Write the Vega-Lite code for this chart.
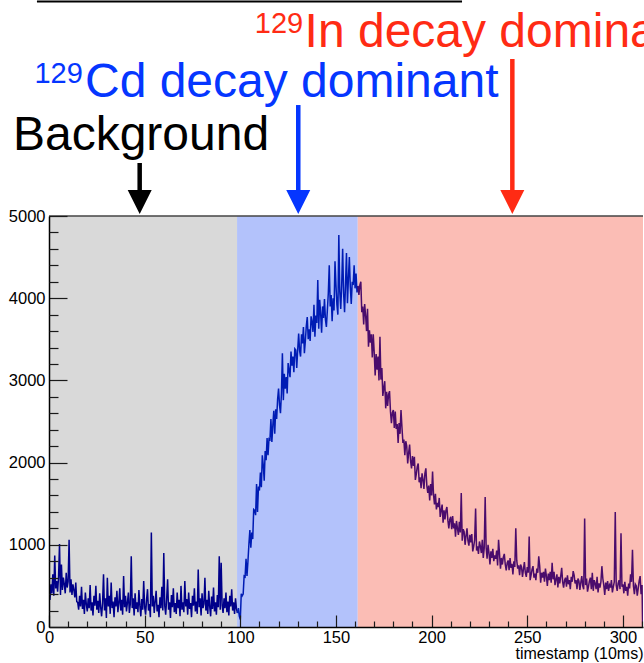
{
"$schema":"https://vega.github.io/schema/vega-lite/v6.json",
"width":594,"height":411,
"autosize":{"type":"none"},
"padding":{"left":49,"top":216,"right":1,"bottom":36},
"background":"white",
"config":{"font":"Liberation Sans","view":{"stroke":null}},
"datasets":{
"one":[{}],
"regions":[{"r":"bg","a":0,"b":98.3},{"r":"cd","a":98.3,"b":161.4},{"r":"in","a":161.4,"b":310.5}],
"h":[
{"t":0,"v":420},{"t":0.5,"v":330},{"t":1,"v":520},{"t":1.5,"v":410},{"t":2,"v":640},{"t":2.5,"v":380},{"t":3,"v":870},{"t":3.5,"v":470},{"t":4,"v":560},{"t":4.5,"v":430},{"t":5,"v":610},{"t":5.5,"v":1010},{"t":6,"v":390},{"t":6.5,"v":760},{"t":7,"v":450},{"t":7.5,"v":600},{"t":8,"v":520},{"t":8.5,"v":410},{"t":9,"v":660},{"t":9.5,"v":480},{"t":10,"v":550},{"t":10.5,"v":1060},{"t":11,"v":420},{"t":11.5,"v":580},{"t":12,"v":390},{"t":12.5,"v":520},{"t":13,"v":450},{"t":13.5,"v":360},{"t":14,"v":540},{"t":14.5,"v":310},
{"t":15,"v":300},{"t":15.5,"v":210},{"t":16,"v":380},{"t":16.5,"v":250},{"t":17,"v":490},{"t":17.5,"v":220},{"t":18,"v":330},{"t":18.5,"v":160},{"t":19,"v":420},{"t":19.5,"v":280},{"t":20,"v":190},{"t":20.5,"v":350},{"t":21,"v":230},{"t":21.5,"v":510},{"t":22,"v":200},{"t":22.5,"v":300},{"t":23,"v":140},{"t":23.5,"v":380},{"t":24,"v":260},{"t":24.5,"v":500},{"t":25,"v":210},{"t":25.5,"v":320},{"t":26,"v":170},{"t":26.5,"v":410},{"t":27,"v":240},{"t":27.5,"v":130},{"t":28,"v":290},{"t":28.5,"v":640},{"t":29,"v":200},{"t":29.5,"v":350},{"t":30,"v":110},{"t":30.5,"v":600},{"t":31,"v":250},{"t":31.5,"v":380},{"t":32,"v":160},{"t":32.5,"v":540},{"t":33,"v":230},{"t":33.5,"v":310},{"t":34,"v":120},{"t":34.5,"v":360},{"t":35,"v":250},{"t":35.5,"v":440},{"t":36,"v":180},{"t":36.5,"v":290},{"t":37,"v":470},{"t":37.5,"v":200},{"t":38,"v":330},{"t":38.5,"v":150},{"t":39,"v":620},{"t":39.5,"v":240},{"t":40,"v":380},{"t":40.5,"v":190},{"t":41,"v":300},{"t":41.5,"v":420},{"t":42,"v":170},{"t":42.5,"v":280},{"t":43,"v":860},{"t":43.5,"v":230},{"t":44,"v":350},{"t":44.5,"v":140},{"t":45,"v":410},{"t":45.5,"v":220},{"t":46,"v":300},{"t":46.5,"v":180},{"t":47,"v":450},{"t":47.5,"v":260},{"t":48,"v":130},{"t":48.5,"v":340},{"t":49,"v":210},{"t":49.5,"v":560},{"t":50,"v":240},{"t":50.5,"v":150},{"t":51,"v":330},{"t":51.5,"v":460},{"t":52,"v":200},{"t":52.5,"v":280},{"t":53,"v":120},{"t":53.5,"v":1150},{"t":54,"v":250},{"t":54.5,"v":380},{"t":55,"v":170},{"t":55.5,"v":310},{"t":56,"v":440},{"t":56.5,"v":190},{"t":57,"v":270},{"t":57.5,"v":120},{"t":58,"v":360},{"t":58.5,"v":230},{"t":59,"v":490},{"t":59.5,"v":200},{"t":60,"v":900},{"t":60.5,"v":260},{"t":61,"v":150},{"t":61.5,"v":340},{"t":62,"v":580},{"t":62.5,"v":210},{"t":63,"v":300},{"t":63.5,"v":110},{"t":64,"v":390},{"t":64.5,"v":240},{"t":65,"v":470},{"t":65.5,"v":180},{"t":66,"v":290},{"t":66.5,"v":160},{"t":67,"v":420},{"t":67.5,"v":230},{"t":68,"v":330},{"t":68.5,"v":130},{"t":69,"v":500},{"t":69.5,"v":210},{"t":70,"v":300},{"t":70.5,"v":180},{"t":71,"v":560},{"t":71.5,"v":250},{"t":72,"v":340},{"t":72.5,"v":150},{"t":73,"v":420},{"t":73.5,"v":220},{"t":74,"v":290},{"t":74.5,"v":120},{"t":75,"v":380},{"t":75.5,"v":260},{"t":76,"v":470},{"t":76.5,"v":190},{"t":77,"v":310},{"t":77.5,"v":160},{"t":78,"v":700},{"t":78.5,"v":240},{"t":79,"v":350},{"t":79.5,"v":140},{"t":80,"v":410},{"t":80.5,"v":230},{"t":81,"v":280},{"t":81.5,"v":600},{"t":82,"v":200},{"t":82.5,"v":330},{"t":83,"v":160},{"t":83.5,"v":440},{"t":84,"v":250},{"t":84.5,"v":130},{"t":85,"v":370},{"t":85.5,"v":220},{"t":86,"v":480},{"t":86.5,"v":190},{"t":87,"v":300},{"t":87.5,"v":150},{"t":88,"v":390},{"t":88.5,"v":240},{"t":89,"v":860},{"t":89.5,"v":210},{"t":90,"v":780},{"t":90.5,"v":260},{"t":91,"v":170},{"t":91.5,"v":350},{"t":92,"v":230},{"t":92.5,"v":420},{"t":93,"v":180},{"t":93.5,"v":310},{"t":94,"v":140},{"t":94.5,"v":380},{"t":95,"v":250},{"t":95.5,"v":460},{"t":96,"v":200},{"t":96.5,"v":300},{"t":97,"v":160},{"t":97.5,"v":350},{"t":98,"v":220},{"t":98.5,"v":170},
{"t":99,"v":230},{"t":99.5,"v":130},{"t":100,"v":90},{"t":100.5,"v":405},{"t":101,"v":380},{"t":101.5,"v":400},{"t":102,"v":620},{"t":102.5,"v":610},{"t":103,"v":830},{"t":103.5,"v":620},{"t":104,"v":800},{"t":104.5,"v":1010},{"t":105,"v":1180},{"t":105.5,"v":965},{"t":106,"v":1150},{"t":106.5,"v":1070},{"t":107,"v":1430},{"t":107.5,"v":1420},{"t":108,"v":1360},{"t":108.5,"v":1740},{"t":109,"v":1400},{"t":109.5,"v":1710},{"t":110,"v":1660},{"t":110.5,"v":1880},{"t":111,"v":1700},{"t":111.5,"v":2090},{"t":112,"v":1970},{"t":112.5,"v":1780},{"t":113,"v":2140},{"t":113.5,"v":2030},{"t":114,"v":2300},{"t":114.5,"v":2090},{"t":115,"v":2290},{"t":115.5,"v":2280},{"t":116,"v":2530},{"t":116.5,"v":2250},{"t":117,"v":2450},{"t":117.5,"v":2630},{"t":118,"v":2350},{"t":118.5,"v":2650},{"t":119,"v":2530},{"t":119.5,"v":2770},{"t":120,"v":2900},{"t":120.5,"v":2700},{"t":121,"v":2600},{"t":121.5,"v":2840},{"t":122,"v":3330},{"t":122.5,"v":2760},{"t":123,"v":3080},{"t":123.5,"v":2900},{"t":124,"v":3040},{"t":124.5,"v":2840},{"t":125,"v":3210},{"t":125.5,"v":3120},{"t":126,"v":3040},{"t":126.5,"v":3350},{"t":127,"v":3180},{"t":127.5,"v":3290},{"t":128,"v":3100},{"t":128.5,"v":3385},{"t":129,"v":3370},{"t":129.5,"v":3150},{"t":130,"v":3370},{"t":130.5,"v":3570},{"t":131,"v":3360},{"t":131.5,"v":3290},{"t":132,"v":3560},{"t":132.5,"v":3450},{"t":133,"v":3650},{"t":133.5,"v":3330},{"t":134,"v":3480},{"t":134.5,"v":3660},{"t":135,"v":3770},{"t":135.5,"v":3500},{"t":136,"v":3620},{"t":136.5,"v":3480},{"t":137,"v":3780},{"t":137.5,"v":3710},{"t":138,"v":3590},{"t":138.5,"v":3920},{"t":139,"v":3530},{"t":139.5,"v":3790},{"t":140,"v":3700},{"t":140.5,"v":4220},{"t":141,"v":3630},{"t":141.5,"v":3980},{"t":142,"v":3810},{"t":142.5,"v":3580},{"t":143,"v":3900},{"t":143.5,"v":3760},{"t":144,"v":3990},{"t":144.5,"v":3740},{"t":145,"v":3650},{"t":145.5,"v":3850},{"t":146,"v":4060},{"t":146.5,"v":4400},{"t":147,"v":3900},{"t":147.5,"v":4040},{"t":148,"v":3720},{"t":148.5,"v":4000},{"t":149,"v":3850},{"t":149.5,"v":4450},{"t":150,"v":4160},{"t":150.5,"v":3920},{"t":151,"v":3800},{"t":151.5,"v":4770},{"t":152,"v":4080},{"t":152.5,"v":3870},{"t":153,"v":4160},{"t":153.5,"v":4600},{"t":154,"v":4060},{"t":154.5,"v":3830},{"t":155,"v":4170},{"t":155.5,"v":4550},{"t":156,"v":3940},{"t":156.5,"v":4230},{"t":157,"v":4500},{"t":157.5,"v":4140},{"t":158,"v":3930},{"t":158.5,"v":4200},{"t":159,"v":4160},{"t":159.5,"v":4400},{"t":160,"v":4120},{"t":160.5,"v":4300},{"t":161,"v":4070},{"t":161.5,"v":4150},
{"t":162,"v":4040},{"t":162.5,"v":4160},{"t":163,"v":4200},{"t":163.5,"v":3830},{"t":164,"v":3900},{"t":164.5,"v":3680},{"t":165,"v":3930},{"t":165.5,"v":3790},{"t":166,"v":3600},{"t":166.5,"v":3870},{"t":167,"v":3410},{"t":167.5,"v":3610},{"t":168,"v":3460},{"t":168.5,"v":3560},{"t":169,"v":3280},{"t":169.5,"v":3560},{"t":170,"v":3340},{"t":170.5,"v":3060},{"t":171,"v":3320},{"t":171.5,"v":3130},{"t":172,"v":3290},{"t":172.5,"v":3000},{"t":173,"v":3530},{"t":173.5,"v":3010},{"t":174,"v":3150},{"t":174.5,"v":2810},{"t":175,"v":2910},{"t":175.5,"v":2990},{"t":176,"v":2660},{"t":176.5,"v":2860},{"t":177,"v":2690},{"t":177.5,"v":2830},{"t":178,"v":2870},{"t":178.5,"v":2620},{"t":179,"v":2480},{"t":179.5,"v":2610},{"t":180,"v":2640},{"t":180.5,"v":2420},{"t":181,"v":2620},{"t":181.5,"v":2410},{"t":182,"v":2470},{"t":182.5,"v":2240},{"t":183,"v":2480},{"t":183.5,"v":2350},{"t":184,"v":2640},{"t":184.5,"v":2430},{"t":185,"v":2240},{"t":185.5,"v":2280},{"t":186,"v":2090},{"t":186.5,"v":2260},{"t":187,"v":2200},{"t":187.5,"v":1990},{"t":188,"v":2120},{"t":188.5,"v":2220},{"t":189,"v":2020},{"t":189.5,"v":1930},{"t":190,"v":2080},{"t":190.5,"v":1960},{"t":191,"v":2070},{"t":191.5,"v":1790},{"t":192,"v":1860},{"t":192.5,"v":1950},{"t":193,"v":1990},{"t":193.5,"v":1760},{"t":194,"v":1820},{"t":194.5,"v":1690},{"t":195,"v":1870},{"t":195.5,"v":1790},{"t":196,"v":1680},{"t":196.5,"v":1870},{"t":197,"v":1930},{"t":197.5,"v":1720},{"t":198,"v":1630},{"t":198.5,"v":1720},{"t":199,"v":1540},{"t":199.5,"v":1740},{"t":200,"v":1600},{"t":200.5,"v":1890},{"t":201,"v":1610},{"t":201.5,"v":1490},{"t":202,"v":1620},{"t":202.5,"v":1430},{"t":203,"v":1510},{"t":203.5,"v":1460},{"t":204,"v":1570},{"t":204.5,"v":1340},{"t":205,"v":1420},{"t":205.5,"v":1490},{"t":206,"v":1270},{"t":206.5,"v":1420},{"t":207,"v":1310},{"t":207.5,"v":1420},{"t":208,"v":1460},{"t":208.5,"v":1300},{"t":209,"v":1200},{"t":209.5,"v":1310},{"t":210,"v":1340},{"t":210.5,"v":1190},{"t":211,"v":1350},{"t":211.5,"v":1200},{"t":212,"v":1260},{"t":212.5,"v":1100},{"t":213,"v":1290},{"t":213.5,"v":1200},{"t":214,"v":1120},{"t":214.5,"v":1280},{"t":215,"v":1150},{"t":215.5,"v":1630},{"t":216,"v":1050},{"t":216.5,"v":1190},{"t":217,"v":1160},{"t":217.5,"v":1000},{"t":218,"v":1110},{"t":218.5,"v":1200},{"t":219,"v":1050},{"t":219.5,"v":990},{"t":220,"v":1120},{"t":220.5,"v":1030},{"t":221,"v":1130},{"t":221.5,"v":920},{"t":222,"v":980},{"t":222.5,"v":1060},{"t":223,"v":1440},{"t":223.5,"v":930},{"t":224,"v":980},{"t":224.5,"v":890},{"t":225,"v":1040},{"t":225.5,"v":980},{"t":226,"v":900},{"t":226.5,"v":1060},{"t":227,"v":840},{"t":227.5,"v":960},{"t":228,"v":1580},{"t":228.5,"v":970},{"t":229,"v":830},{"t":229.5,"v":1000},{"t":230,"v":900},{"t":230.5,"v":760},{"t":231,"v":920},{"t":231.5,"v":840},{"t":232,"v":950},{"t":232.5,"v":800},{"t":233,"v":870},{"t":233.5,"v":830},{"t":234,"v":930},{"t":234.5,"v":750},{"t":235,"v":1060},{"t":235.5,"v":890},{"t":236,"v":710},{"t":236.5,"v":840},{"t":237,"v":760},{"t":237.5,"v":850},{"t":238,"v":890},{"t":238.5,"v":760},{"t":239,"v":690},{"t":239.5,"v":780},{"t":240,"v":810},{"t":240.5,"v":690},{"t":241,"v":840},{"t":241.5,"v":720},{"t":242,"v":770},{"t":242.5,"v":640},{"t":243,"v":800},{"t":243.5,"v":730},{"t":244,"v":1200},{"t":244.5,"v":810},{"t":245,"v":710},{"t":245.5,"v":750},{"t":246,"v":630},{"t":246.5,"v":760},{"t":247,"v":730},{"t":247.5,"v":610},{"t":248,"v":700},{"t":248.5,"v":790},{"t":249,"v":660},{"t":249.5,"v":610},{"t":250,"v":730},{"t":250.5,"v":660},{"t":251,"v":1100},{"t":251.5,"v":570},{"t":252,"v":630},{"t":252.5,"v":700},{"t":253,"v":740},{"t":253.5,"v":600},{"t":254,"v":650},{"t":254.5,"v":570},{"t":255,"v":710},{"t":255.5,"v":660},{"t":256,"v":860},{"t":256.5,"v":740},{"t":257,"v":540},{"t":257.5,"v":660},{"t":258,"v":600},{"t":258.5,"v":670},{"t":259,"v":550},{"t":259.5,"v":710},{"t":260,"v":620},{"t":260.5,"v":500},{"t":261,"v":650},{"t":261.5,"v":570},{"t":262,"v":670},{"t":262.5,"v":540},{"t":263,"v":780},{"t":263.5,"v":580},{"t":264,"v":670},{"t":264.5,"v":510},{"t":265,"v":580},{"t":265.5,"v":640},{"t":266,"v":480},{"t":266.5,"v":610},{"t":267,"v":530},{"t":267.5,"v":620},{"t":268,"v":720},{"t":268.5,"v":550},{"t":269,"v":480},{"t":269.5,"v":570},{"t":270,"v":600},{"t":270.5,"v":490},{"t":271,"v":630},{"t":271.5,"v":520},{"t":272,"v":570},{"t":272.5,"v":460},{"t":273,"v":610},{"t":273.5,"v":550},{"t":274,"v":680},{"t":274.5,"v":630},{"t":275,"v":530},{"t":275.5,"v":570},{"t":276,"v":460},{"t":276.5,"v":590},{"t":277,"v":560},{"t":277.5,"v":450},{"t":278,"v":540},{"t":278.5,"v":620},{"t":279,"v":500},{"t":279.5,"v":460},{"t":280,"v":1320},{"t":280.5,"v":510},{"t":281,"v":590},{"t":281.5,"v":430},{"t":282,"v":490},{"t":282.5,"v":560},{"t":283,"v":600},{"t":283.5,"v":460},{"t":284,"v":660},{"t":284.5,"v":440},{"t":285,"v":570},{"t":285.5,"v":530},{"t":286,"v":460},{"t":286.5,"v":610},{"t":287,"v":420},{"t":287.5,"v":530},{"t":288,"v":480},{"t":288.5,"v":550},{"t":289,"v":740},{"t":289.5,"v":590},{"t":290,"v":510},{"t":290.5,"v":390},{"t":291,"v":540},{"t":291.5,"v":460},{"t":292,"v":560},{"t":292.5,"v":440},{"t":293,"v":510},{"t":293.5,"v":480},{"t":294,"v":570},{"t":294.5,"v":420},{"t":295,"v":490},{"t":295.5,"v":550},{"t":296,"v":1400},{"t":296.5,"v":510},{"t":297,"v":440},{"t":297.5,"v":530},{"t":298,"v":570},{"t":298.5,"v":460},{"t":299,"v":1140},{"t":299.5,"v":490},{"t":300,"v":520},{"t":300.5,"v":410},{"t":301,"v":550},{"t":301.5,"v":440},{"t":302,"v":490},{"t":302.5,"v":380},{"t":303,"v":530},{"t":303.5,"v":470},{"t":304,"v":640},{"t":304.5,"v":550},{"t":305,"v":940},{"t":305.5,"v":500},{"t":306,"v":400},{"t":306.5,"v":520},{"t":307,"v":500},{"t":307.5,"v":380},{"t":308,"v":470},{"t":308.5,"v":560},{"t":309,"v":620},{"t":309.5,"v":400},{"t":310,"v":510},{"t":310.3,"v":0}
]},
"resolve":{"axis":{"x":"independent","y":"independent"}},
"layer":[
{"data":{"name":"regions"},"mark":{"type":"rect"},
 "encoding":{
  "x":{"field":"a","type":"quantitative","scale":{"domain":[0,310.5],"nice":false,"zero":false},
   "axis":{"orient":"bottom","zindex":1,"values":[0,50,100,150,200,250,300],"format":"d","tickSize":-12,"tickColor":"#1a1a1a","tickWidth":1.2,"domainColor":"#000","domainWidth":1.5,"labelFont":"Liberation Sans","labelFontSize":16.5,"labelColor":"#000","labelPadding":14,"labelFlush":false,"labelOverlap":false,"grid":false,"title":"timestamp (10ms)","titleFont":"Liberation Sans","titleFontSize":16,"titleFontWeight":"normal","titleColor":"#000","titleAnchor":"end","titlePadding":0}},
  "x2":{"field":"b"},
  "y":{"datum":0,"type":"quantitative","scale":{"domain":[0,5000],"nice":false,"zero":false},"axis":null},
  "y2":{"datum":5000},
  "color":{"field":"r","type":"nominal","scale":{"domain":["bg","cd","in"],"range":["#d9d9d9","#b3c2fb","#fbbdb5"]},"legend":null}}},
{"data":{"name":"h"},"transform":[{"filter":"datum.t <= 98.5"}],
 "mark":{"type":"line","color":"#00008a","strokeWidth":1.5,"clip":true},
 "encoding":{
  "x":{"field":"t","type":"quantitative","scale":{"domain":[0,310.5],"nice":false,"zero":false},
   "axis":{"orient":"bottom","zindex":1,"values":[10,20,30,40,60,70,80,90,110,120,130,140,160,170,180,190,210,220,230,240,260,270,280,290,310],"tickSize":-6,"tickColor":"#1a1a1a","tickWidth":1.2,"labels":false,"domain":false,"grid":false,"title":null}},
  "y":{"field":"v","type":"quantitative","scale":{"domain":[0,5000],"nice":false,"zero":false},
   "axis":{"orient":"left","zindex":1,"values":[0,1000,2000,3000,4000,5000],"format":"d","tickSize":-18,"tickColor":"#1a1a1a","tickWidth":1.2,"domainColor":"#000","domainWidth":1.5,"labelFont":"Liberation Sans","labelFontSize":16.5,"labelColor":"#000","labelPadding":22,"labelFlush":false,"labelOverlap":false,"grid":false,"title":null}}}},
{"data":{"name":"h"},"transform":[{"filter":"datum.t >= 98.5 && datum.t <= 161.5"}],
 "mark":{"type":"line","color":"#001cb4","strokeWidth":1.5,"clip":true},
 "encoding":{
  "x":{"field":"t","type":"quantitative","scale":{"domain":[0,310.5],"nice":false,"zero":false},"axis":null},
  "y":{"field":"v","type":"quantitative","scale":{"domain":[0,5000],"nice":false,"zero":false},
   "axis":{"orient":"left","zindex":1,"values":[200,400,600,800,1200,1400,1600,1800,2200,2400,2600,2800,3200,3400,3600,3800,4200,4400,4600,4800],"tickSize":-9,"tickColor":"#1a1a1a","tickWidth":1.2,"labels":false,"domain":false,"grid":false,"title":null}}}},
{"data":{"name":"h"},"transform":[{"filter":"datum.t >= 161.5"}],
 "mark":{"type":"line","color":"#4a0c6c","strokeWidth":1.5,"clip":true},
 "encoding":{
  "x":{"field":"t","type":"quantitative","scale":{"domain":[0,310.5],"nice":false,"zero":false},"axis":null},
  "y":{"field":"v","type":"quantitative","scale":{"domain":[0,5000],"nice":false,"zero":false},"axis":null}}},
{"data":{"name":"one"},"mark":{"type":"rule","color":"#444","strokeWidth":1.5},
 "encoding":{"x":{"datum":0,"type":"quantitative","axis":null},"x2":{"datum":310.5},"y":{"datum":5000,"type":"quantitative","axis":null}}},
{"data":{"name":"one"},"mark":{"type":"rule","color":"#000","strokeWidth":2},
 "encoding":{"x":{"datum":-6.3,"type":"quantitative","axis":null},"x2":{"datum":215.9},"y":{"datum":7609,"type":"quantitative","axis":null}}},
{"data":{"name":"one"},"mark":{"type":"rule","color":"#000","strokeWidth":4.5},
 "encoding":{"x":{"datum":47.4,"type":"quantitative","axis":null},"y":{"datum":5645,"type":"quantitative","axis":null},"y2":{"datum":5250}}},
{"data":{"name":"one"},"mark":{"type":"point","shape":"M-1,-1L1,-1L0,1Z","filled":true,"opacity":1,"size":576,"color":"#000"},
 "encoding":{"x":{"datum":47.4,"type":"quantitative","axis":null},"y":{"datum":5170,"type":"quantitative","axis":null}}},
{"data":{"name":"one"},"mark":{"type":"rule","color":"#0536ff","strokeWidth":4.5},
 "encoding":{"x":{"datum":130.3,"type":"quantitative","axis":null},"y":{"datum":6350,"type":"quantitative","axis":null},"y2":{"datum":5250}}},
{"data":{"name":"one"},"mark":{"type":"point","shape":"M-1,-1L1,-1L0,1Z","filled":true,"opacity":1,"size":576,"color":"#0536ff"},
 "encoding":{"x":{"datum":130.3,"type":"quantitative","axis":null},"y":{"datum":5170,"type":"quantitative","axis":null}}},
{"data":{"name":"one"},"mark":{"type":"rule","color":"#ff2b14","strokeWidth":4.5},
 "encoding":{"x":{"datum":242.2,"type":"quantitative","axis":null},"y":{"datum":6910,"type":"quantitative","axis":null},"y2":{"datum":5250}}},
{"data":{"name":"one"},"mark":{"type":"point","shape":"M-1,-1L1,-1L0,1Z","filled":true,"opacity":1,"size":576,"color":"#ff2b14"},
 "encoding":{"x":{"datum":242.2,"type":"quantitative","axis":null},"y":{"datum":5170,"type":"quantitative","axis":null}}},
{"data":{"name":"one"},"mark":{"type":"text","text":"Background","font":"Liberation Sans","fontSize":48,"align":"center","baseline":"alphabetic","color":"#000"},
 "encoding":{"x":{"datum":48.1,"type":"quantitative","axis":null},"y":{"datum":5803,"type":"quantitative","axis":null}}},
{"data":{"name":"one"},"mark":{"type":"text","text":"Cd decay dominant","font":"Liberation Sans","fontSize":48,"align":"left","baseline":"alphabetic","color":"#0536ff"},
 "encoding":{"x":{"datum":18.8,"type":"quantitative","axis":null},"y":{"datum":6447,"type":"quantitative","axis":null}}},
{"data":{"name":"one"},"mark":{"type":"text","text":"129","font":"Liberation Sans","fontSize":29,"align":"left","baseline":"alphabetic","color":"#0536ff"},
 "encoding":{"x":{"datum":-7.6,"type":"quantitative","axis":null},"y":{"datum":6613,"type":"quantitative","axis":null}}},
{"data":{"name":"one"},"mark":{"type":"text","text":"In decay dominant","font":"Liberation Sans","fontSize":48,"align":"left","baseline":"alphabetic","color":"#ff2b14"},
 "encoding":{"x":{"datum":133.6,"type":"quantitative","axis":null},"y":{"datum":7056,"type":"quantitative","axis":null}}},
{"data":{"name":"one"},"mark":{"type":"text","text":"129","font":"Liberation Sans","fontSize":29,"align":"left","baseline":"alphabetic","color":"#ff2b14"},
 "encoding":{"x":{"datum":107.6,"type":"quantitative","axis":null},"y":{"datum":7222,"type":"quantitative","axis":null}}}
]
}
